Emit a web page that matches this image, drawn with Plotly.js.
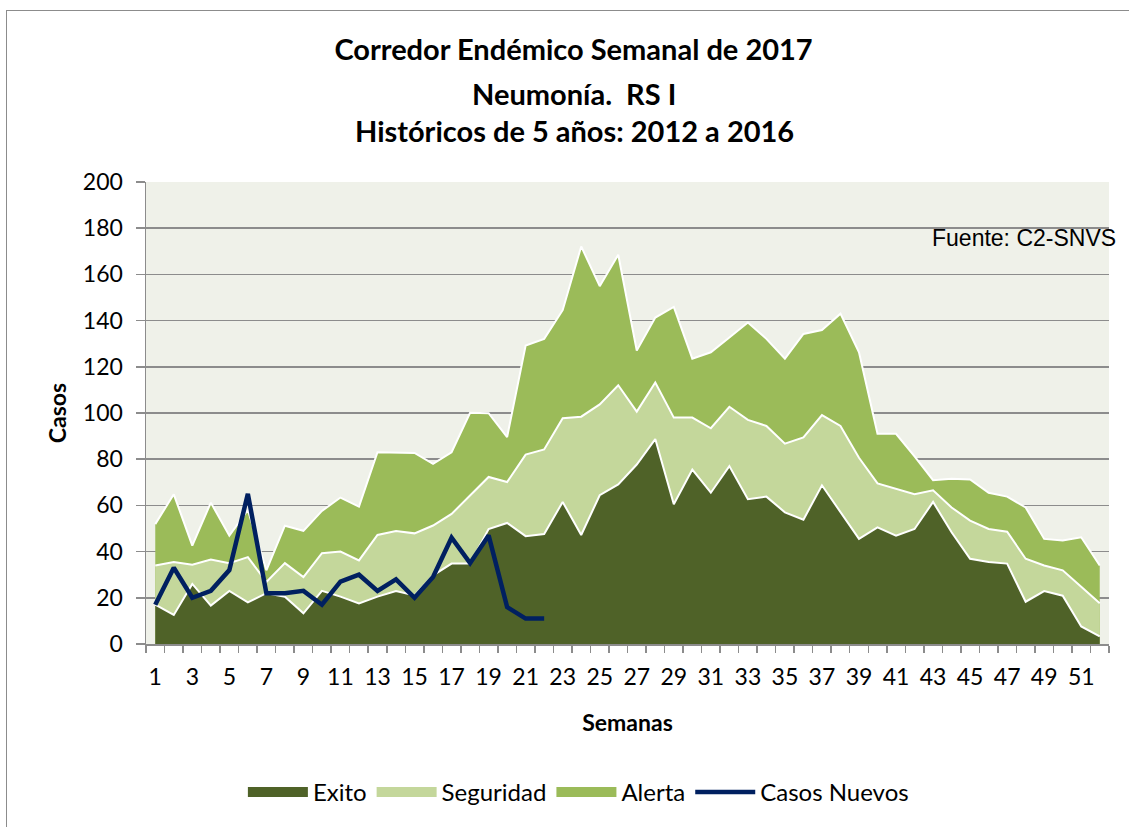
<!DOCTYPE html>
<html>
<head>
<meta charset="utf-8">
<script src="https://cdn.plot.ly/plotly-3.0.1.min.js"></script>
<style>
  html, body { margin:0; padding:0; background:#ffffff; overflow:hidden; }
  #frame { position:absolute; left:6px; top:10px; width:1140px; height:840px; border:1.5px solid #8c8c8c; box-sizing:border-box; pointer-events:none; z-index:5; }
  #chart { position:absolute; left:0; top:0; width:1129px; height:827px; }
</style>
</head>
<body>
<div id="chart"></div>
<div id="frame"></div>
<script>
// Weeks (categories)
const weeks = [1,2,3,4,5,6,7,8,9,10,11,12,13,14,15,16,17,18,19,20,21,22,23,24,25,26,
               27,28,29,30,31,32,33,34,35,36,37,38,39,40,41,42,43,44,45,46,47,48,49,50,51,52];
const weekTickVals = [1,3,5,7,9,11,13,15,17,19,21,23,25,27,29,31,33,35,37,39,41,43,45,47,49,51];

// Endemic corridor zones (upper limit of each zone)
const exito = [17, 12.6, 26, 16.6, 23, 18, 22, 20.5, 13.3, 23, 20.5, 17.6, 20.5, 22.9, 21, 29.7,
  34.8, 34.8, 49.8, 52.4, 46.7, 47.6, 61.5, 47.2, 64.4, 69.1, 77.7, 88.7, 60.5, 75.5, 65.5, 77,
  62.7, 63.8, 57, 53.8, 68.7, 57, 45.5, 50.5, 46.9, 49.8, 61.5, 48.4, 36.9, 35.5, 34.8, 18.3,
  22.9, 20.9, 7.6, 3.3];
const seguridad = [34, 35.5, 34.3, 36.6, 35, 37.6, 26.9, 35, 29, 39.3, 40, 36.2, 47.2, 48.9, 47.9, 51.3,
  56.3, 64.1, 72.3, 70.1, 82, 84.2, 97.7, 98.4, 103.7, 112, 100.6, 113.2, 98, 98, 93.4, 102.7,
  97, 94.4, 86.7, 89.4, 99.1, 94.4, 80.6, 69.5, 67.3, 64.8, 66.5, 59.1, 53.4, 49.8, 48.6, 36.9,
  34, 31.9, 24.8, 17.6];
const alerta = [51.9, 64.8, 42.6, 61.2, 46.9, 58, 31.9, 51.2, 49, 57.6, 63.4, 59.5, 83, 82.7, 82.7, 78,
  83, 100.1, 99.9, 89.6, 129.2, 132.1, 144.5, 172.1, 154.9, 168.5, 127, 141.3, 145.9, 123.5, 126.3, 132.7,
  139.2, 132.1, 123.5, 134.2, 135.9, 143, 126.3, 91, 91, 81.2, 70.9, 71.5, 71.2, 65.5, 63.8, 59.1,
  45.5, 44.8, 46.2, 34];
// 2017 new cases (weeks 1-22)
const casosWeeks = [1,2,3,4,5,6,7,8,9,10,11,12,13,14,15,16,17,18,19,20,21,22];
const casosNuevos = [17, 33, 20, 23, 32, 65, 22, 22, 23, 17, 27, 30, 23, 28, 20, 29, 46, 35, 47, 16, 11, 11];

const seriesNames = ["Exito", "Seguridad", "Alerta", "Casos Nuevos"];
const titleLines = ["Corredor Endémico Semanal de 2017", "Neumonía.  RS I", "Históricos de 5 años: 2012 a 2016"];

const FONT = "Lato, 'Open Sans', sans-serif";
const GRID = "#8c8c8c";
const COLORS = { exito: "#4f6228", seguridad: "#c4d79b", alerta: "#9bbb59", casos: "#002060" };

const traces = [
  // zone areas (drawn back to front)
  { x: weeks, y: alerta, name: seriesNames[2], legendgroup: "a", showlegend: false, type: "scatter", mode: "lines",
    fill: "tozeroy", fillcolor: COLORS.alerta, line: { color: "#ffffff", width: 2 } },
  { x: weeks, y: seguridad, name: seriesNames[1], legendgroup: "s", showlegend: false, type: "scatter", mode: "lines",
    fill: "tozeroy", fillcolor: COLORS.seguridad, line: { color: "#ffffff", width: 2 } },
  { x: weeks, y: exito, name: seriesNames[0], legendgroup: "e", showlegend: false, type: "scatter", mode: "lines",
    fill: "tozeroy", fillcolor: COLORS.exito, line: { color: "#ffffff", width: 2 } },
  { x: casosWeeks, y: casosNuevos, name: seriesNames[3], type: "scatter", mode: "lines",
    line: { color: COLORS.casos, width: 4.5 }, legendrank: 4 },
  // legend swatches for the areas (no data points)
  { x: [null], y: [null], name: seriesNames[0], legendgroup: "e", type: "scatter", mode: "lines",
    line: { color: COLORS.exito, width: 15 }, legendrank: 1 },
  { x: [null], y: [null], name: seriesNames[1], legendgroup: "s", type: "scatter", mode: "lines",
    line: { color: COLORS.seguridad, width: 15 }, legendrank: 2 },
  { x: [null], y: [null], name: seriesNames[2], legendgroup: "a", type: "scatter", mode: "lines",
    line: { color: COLORS.alerta, width: 15 }, legendrank: 3 }
];

const TFONT = { family: FONT, size: 29, weight: "bold", color: "#000000" };

const layout = {
  width: 1129, height: 827,
  margin: { l: 146, r: 20, t: 182, b: 181 },
  paper_bgcolor: "#ffffff",
  plot_bgcolor: "#eff1e9",
  font: { family: FONT, size: 22, color: "#000000" },
  showlegend: true,
  title: { text: titleLines[0], xref: "container", x: 0.508, xanchor: "center",
           yref: "container", y: 1 - 50/827, yanchor: "middle", font: TFONT },
  annotations: [
    { text: titleLines[1], xref: "paper", yref: "paper", x: (574-146)/963, y: (646-93)/464, xanchor: "center",
      yanchor: "middle", showarrow: false, font: TFONT },
    { text: titleLines[2], xref: "paper", yref: "paper", x: (574-146)/963, y: (646-130)/464, xanchor: "center",
      yanchor: "middle", showarrow: false, font: TFONT },
    { text: "Fuente: C2-SNVS", xref: "paper", yref: "paper", x: (930-146)/963, y: (646-238)/464,
      xanchor: "left", yanchor: "middle", showarrow: false,
      font: { family: "'Liberation Sans', Arial, sans-serif", size: 23, color: "#000000" } }
  ],
  xaxis: {
    range: [0.5, 52.5], tickmode: "array", tickvals: weekTickVals, ticktext: weekTickVals.map(String),
    ticks: "", showgrid: false, zeroline: false,
    showline: true, linecolor: GRID, linewidth: 1.5,
    minor: { tickmode: "linear", tick0: 0.5, dtick: 1, ticks: "outside", ticklen: 7, tickcolor: GRID, tickwidth: 1.5, showgrid: false },
    tickfont: { family: FONT, size: 23, color: "#000000" },
    ticklabelstandoff: 12,
    title: { text: "Semanas", font: { family: FONT, size: 23, weight: "bold", color: "#000000" }, standoff: 26 }
  },
  yaxis: {
    range: [0, 200], tickmode: "linear", tick0: 0, dtick: 20,
    ticks: "outside", ticklen: 9, tickcolor: GRID, tickwidth: 1.5,
    showgrid: true, gridcolor: GRID, gridwidth: 1.5, zeroline: false,
    showline: true, linecolor: GRID, linewidth: 1.5,
    tickfont: { family: FONT, size: 23, color: "#000000" },
    ticklabelstandoff: 8,
    title: { text: "Casos", font: { family: FONT, size: 23, weight: "bold", color: "#000000" }, standoff: 10 }
  },
  legend: { orientation: "h", x: 0.449, xanchor: "center", y: (646-795)/464, yanchor: "middle",
            itemwidth: 60, traceorder: "normal",
            font: { family: FONT, size: 24, color: "#000000" }, bgcolor: "rgba(0,0,0,0)" }
};

Plotly.newPlot("chart", traces, layout, { displayModeBar: false, staticPlot: true });
</script>
</body>
</html>
